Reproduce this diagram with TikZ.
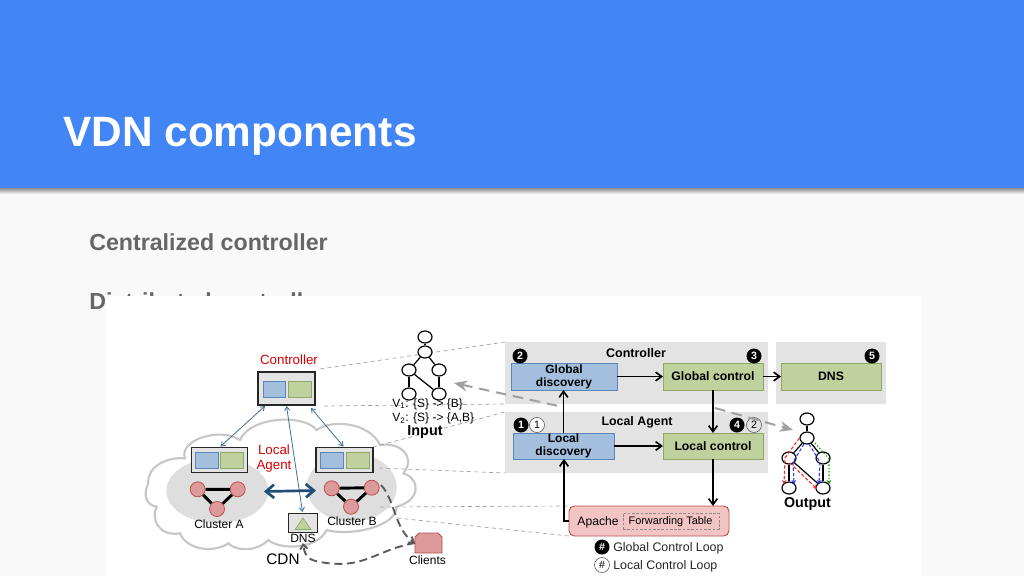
\documentclass[tikz,border=0pt]{standalone}
\usepackage{fontspec}
\setmainfont{Liberation Sans}
\usetikzlibrary{arrows.meta,calc,shapes.geometric}
\definecolor{hdr}{HTML}{4285F4}
\definecolor{pagebg}{HTML}{F9F9F9}
\definecolor{bodytxt}{HTML}{666666}
\definecolor{panel}{HTML}{E3E3E3}
\definecolor{bfill}{HTML}{A3BFDD}
\definecolor{bline}{HTML}{5A86B8}
\definecolor{gfill}{HTML}{BFD19C}
\definecolor{gline}{HTML}{8FA868}
\definecolor{pinkf}{HTML}{DC9A9A}
\definecolor{pinkl}{HTML}{B85050}
\definecolor{apachef}{HTML}{F2C4C4}
\definecolor{navy}{HTML}{1F4E79}
\definecolor{thinblue}{HTML}{3F6F96}
\definecolor{dashgrey}{HTML}{A0A0A0}
\tikzset{
  sz/.style 2 args={minimum width=#1*0.75pt,minimum height=#2*0.75pt,inner sep=0pt,outer sep=0pt},
  panelbox/.style={fill=panel,draw=none},
  bluebox/.style={fill=bfill,draw=bline,line width=.6pt,align=center,font=\fontsize{9}{9.8}\selectfont\bfseries},
  greenbox/.style={fill=gfill,draw=gline,line width=.6pt,align=center,font=\fontsize{9.2}{10}\selectfont\bfseries},
  agentbox/.style={fill=panel,draw=black!85,line width=1pt},
  pinkdot/.style={circle,fill=pinkf,draw=pinkl,line width=.6pt,minimum size=15*0.75pt,inner sep=0pt},
  gnode/.style={ellipse,fill=white,draw=black,line width=.9pt,minimum width=14*0.75pt,minimum height=12*0.75pt,inner sep=0pt},
  flow/.style={-{Straight Barb[length=4.5pt,width=6.5pt]},line width=1.2pt,black},
  thinarrow/.style={{Straight Barb[length=3pt,width=4pt]}-{Straight Barb[length=3pt,width=4pt]},line width=.6pt,thinblue},
  leader/.style={dash pattern=on 3pt off 2.5pt,line width=.5pt,dashgrey},
  blackno/.style={circle,fill=black,text=white,minimum size=15*0.75pt,inner sep=0pt,font=\fontsize{8}{8.5}\selectfont\bfseries},
  openno/.style={circle,fill=white,draw=black!70,line width=.4pt,minimum size=15*0.75pt,inner sep=0pt,font=\fontsize{8}{8.5}\selectfont},
  lab/.style={inner sep=0pt,font=\fontsize{9}{10.5}\selectfont},
  redlab/.style={inner sep=0pt,text=red!85!black,font=\fontsize{10}{11.5}\selectfont},
  graphedge/.style={line width=.9pt,black},
  tinydash/.style={-{Stealth[length=3pt,width=3.5pt]},line width=.8pt,dash pattern=on 2.5pt off 1.5pt},
  cdnarrow/.style={-{Straight Barb[length=3.5pt,width=5.5pt]},line width=1.4pt,black!65,dash pattern=on 6pt off 3.5pt},
  bigdash/.style={line width=1.5pt,dashgrey,dash pattern=on 8pt off 5pt},
}
\begin{document}
\begin{tikzpicture}[x=.75pt,y=-.75pt]
\useasboundingbox (0,0) rectangle (1024,576);
\fill[pagebg] (0,0) rectangle (1024,576);
\shade[top color=black!45,bottom color=pagebg] (0,188) rectangle (1024,194);
\fill[hdr] (0,0) rectangle (1024,188);
\node[anchor=base west,inner sep=0pt,text=white,font=\fontsize{31.8}{36}\selectfont\bfseries] (title) at (63,146) {VDN components};
\node[anchor=base west,inner sep=0pt,text=bodytxt,font=\fontsize{17.4}{22}\selectfont\bfseries] (b1) at (89,250) {Centralized controller};
\node[anchor=base west,inner sep=0pt,text=bodytxt,font=\fontsize{17.4}{22}\selectfont\bfseries] (b2) at (89,309) {Distributed controller};
\fill[white] (106,296) rectangle (921,576);

% cloud
\begin{scope}[shift={(140,330)},x=.25pt,y=-.25pt]
\draw[fill=white,draw=black!22,line width=1.6pt]
 (25,460) .. controls (20,410) and (80,380) .. (135,385)
 .. controls (115,330) and (240,290) .. (300,330)
 .. controls (330,260) and (490,250) .. (530,300)
 .. controls (580,265) and (690,280) .. (720,345)
 .. controls (780,335) and (830,380) .. (790,430)
 .. controls (840,445) and (845,510) .. (770,530)
 .. controls (770,590) and (630,620) .. (560,600)
 .. controls (530,660) and (420,660) .. (385,630)
 .. controls (350,665) and (290,665) .. (265,640)
 .. controls (220,670) and (140,660) .. (120,610)
 .. controls (60,620) and (30,570) .. (50,530)
 .. controls (15,525) and (10,490) .. (25,460) -- cycle;
\fill[black!13] (232,482) ellipse [x radius=153,y radius=98];
\fill[black!13] (635,472) ellipse [x radius=135,y radius=103];
\end{scope}

% input/output grey arrow behind the panels: left and right visible parts
\coordinate (ga) at (454,383); \coordinate (gb) at (563,407);
\coordinate (gc1) at (715,408); \coordinate (gd1) at (793,430);

% right panels
\node[panelbox,sz={263}{62}] (pctl) at (636.5,373) {};
\node[panelbox,sz={110}{62}] (pdns) at (831,373) {};
\node[panelbox,sz={263}{61}] (ploc) at (636.5,442.5) {};

% leader lines
\coordinate (l1a) at (320,369); \coordinate (l1b) at (505,342);
\coordinate (l2a) at (324,406); \coordinate (l2b) at (505,404);
\coordinate (l3a) at (373,447); \coordinate (l3b) at (505,412);
\coordinate (l4a) at (379,468); \coordinate (l4b) at (505,473);
\coordinate (l5a) at (380,507); \coordinate (l5b) at (569,506);
\coordinate (l6a) at (397,518); \coordinate (l6b) at (569,536);
\foreach \n in {1,...,6} \draw[leader] (l\n a) -- (l\n b);

% left: controller
\node[agentbox,sz={57}{33}] (ctl) at (286.5,388.5) {};
\node[fill=bfill,draw=bline,line width=.6pt,sz={22}{16}] (ctlb) at (274,389.5) {};
\node[fill=gfill,draw=gline,line width=.6pt,sz={23}{16}] (ctlg) at (299.5,389.5) {};
\node[redlab] (ctllab) at (289,360) {Controller};
% agents
\node[agentbox,sz={56}{25}] (aga) at (219.5,460) {};
\node[fill=bfill,draw=bline,line width=.6pt,sz={23}{16}] (agab) at (206.5,460) {};
\node[fill=gfill,draw=gline,line width=.6pt,sz={23}{16}] (agag) at (231.5,460) {};
\node[agentbox,sz={57}{25}] (agb) at (344.5,460) {};
\node[fill=bfill,draw=bline,line width=.6pt,sz={23}{16}] (agbb) at (331.5,460) {};
\node[fill=gfill,draw=gline,line width=.6pt,sz={23}{16}] (agbg) at (357.5,460) {};
\node[redlab,align=center] (loclab) at (274,458.5) {Local\\[-.5pt]Agent};
% clusters
\node[pinkdot] (a1) at (197.7,489.3) {};
\node[pinkdot] (a2) at (237.7,489.3) {};
\node[pinkdot] (a3) at (217,509) {};
\node[pinkdot] (b1c) at (331.7,488.3) {};
\node[pinkdot] (b2c) at (371.7,487.7) {};
\node[pinkdot] (b3c) at (351,506.7) {};
\draw[line width=2.2pt,black] (a1)--(a2) (a2)--(a3) (a1)--(a3);
\draw[line width=2.2pt,black] (b1c)--(b2c) (b2c)--(b3c) (b1c)--(b3c);
\node[lab] (claba) at (219,524) {Cluster A};
\node[lab] (clabb) at (352,521) {Cluster B};
% DNS
\node[agentbox,line width=.7pt,sz={29}{19}] (ldns) at (302.5,522.5) {};
\fill[gfill,draw=gline,line width=.5pt] (295,529.5) -- (303,518) -- (311,529.5) -- cycle;
\node[lab] (ldnslab) at (303,538.5) {DNS};
\node[inner sep=0pt,font=\fontsize{11.5}{13}\selectfont] (cdn) at (283,559.5) {CDN};
% clients
\node[sz={27}{20}] (cli) at (428.5,543) {};
\fill[pinkf,draw=pinkl,line width=.7pt] (415,553) -- (415,537) -- (419,533) -- (438,533) -- (442,537) -- (442,553) -- cycle;
\node[lab] (clilab) at (427.5,560.5) {Clients};
% left connectors
\draw[thinarrow] ($(ctl.south west)+(7,1)$) -- ($(aga.north)+(1,-1)$);
\draw[thinarrow] ($(ctl.south east)+(-4,3)$) -- ($(agb.north)+(-1,-1)$);
\draw[thinarrow] ($(ctl.south)+(0,1)$) -- ($(ldns.north)+(0,-1)$);
\draw[{Straight Barb[length=6pt,width=10pt]}-{Straight Barb[length=6pt,width=10pt]},line width=2pt,navy] (264,491.5) -- (316,490.5);
\coordinate (curv1) at (381,485);
\draw[cdnarrow] (curv1) .. controls (395,500) and (395,530) .. (cli.west);
\draw[cdnarrow] (cli.west) .. controls (375,550) and (365,570) .. (320,562) .. controls (310,560) and (305,558) .. (ldnslab.south);

% right boxes
\node[bluebox,sz={106}{27}] (gd) at (564,376.5) {Global\\discovery};
\node[greenbox,sz={100}{27}] (gc) at (713,376.5) {Global control};
\node[greenbox,sz={100}{27}] (rdns) at (831,376.5) {DNS};
\node[bluebox,sz={101}{26}] (ld) at (563.5,446) {Local\\discovery};
\node[greenbox,sz={100}{26}] (lc) at (713,446) {Local control};
\node[fill=apachef,draw=pinkl,line width=.7pt,rounded corners=4pt,sz={160}{30}] (ap) at (649,521) {};
\node[fill=none,draw=black!45,dash pattern=on 2pt off 1.2pt,line width=.5pt,sz={96}{16}] (ft) at (671,521) {};
\node[inner sep=0pt,font=\fontsize{9.1}{10}\selectfont] (aplab) at (598,522) {Apache};
\node[inner sep=0pt,font=\fontsize{8.2}{9}\selectfont] (ftlab) at (670.5,522) {Forwarding Table};
\node[inner sep=0pt,font=\fontsize{9.4}{10}\selectfont\bfseries] (pt1) at (636,353.5) {Controller};
\node[inner sep=0pt,font=\fontsize{9.3}{10}\selectfont\bfseries] (pt2) at (637,422) {Local Agent};
% numbers
\node[blackno] (n2) at (520,356) {2};
\node[blackno] (n3) at (754,356) {3};
\node[blackno] (n5) at (872,356) {5};
\node[blackno] (n1) at (521,425) {1};
\node[openno] (o1) at (537,425) {1};
\node[blackno] (n4) at (737,425) {4};
\node[openno,fill=panel] (o2) at (754,425) {2};
% right flows
\draw[flow] (gd) -- (gc);
\draw[flow] (gc) -- (rdns);
\draw[flow] (gc) -- (lc);
\draw[flow] (ld) -- (lc);
\draw[flow] (ld.north) -- (ld.north |- gd.south);
\draw[flow] (lc) -- (ap.north -| lc.south);
\draw[flow] (ap.west |- 0,521) -- (564,521) -- (564,459);
% legend
\node[blackno] (k1) at (602,547) {\#};
\node[openno] (k2) at (602,565) {\#};
\node[anchor=west,inner sep=0pt,text=black!85,font=\fontsize{9.3}{10}\selectfont] (k1t) at (613,548) {Global Control Loop};
\node[anchor=west,inner sep=0pt,text=black!85,font=\fontsize{9.3}{10}\selectfont] (k2t) at (613,566) {Local Control Loop};

% input graph
\node[gnode] (i1) at (425,337) {};
\node[gnode] (i2) at (425,352) {};
\node[gnode] (i3) at (409,370) {};
\node[gnode] (i4) at (439,370) {};
\node[gnode] (i5) at (409,394) {};
\node[gnode] (i6) at (439,394) {};
\foreach \a/\b in {i1/i2,i2/i3,i2/i4,i3/i5,i4/i6,i3/i6} \draw[graphedge] (\a)--(\b);
\node[lab,anchor=west] (v1) at (392,404.5) {V\textsubscript{1}: \{S\} -> \{B\}};
\node[lab,anchor=west] (v2) at (392,418.5) {V\textsubscript{2}: \{S\} -> \{A,B\}};
\node[inner sep=0pt,font=\fontsize{10.8}{11}\selectfont\bfseries] (inp) at (425,432) {Input};

% output graph
\node[gnode] (u1) at (807,419) {};
\node[gnode] (u2) at (807,438) {};
\node[gnode] (u3) at (789,458) {};
\node[gnode] (u4) at (823,458) {};
\node[gnode] (u5) at (789,488) {};
\node[gnode] (u6) at (823,488) {};
\foreach \a/\b in {u1/u2,u2/u3,u2/u4,u3/u5,u4/u6,u3/u6} \draw[graphedge] (\a)--(\b);
\draw[tinydash,red!85] (u2.west) -- (785,458) -- (784,484);
\draw[tinydash,red!85] (790,463) -- (817,489);
\draw[tinydash,blue!80] (804,444) -- (793,462) -- (794,484);
\draw[tinydash,blue!80] (809,444) -- (820,462) -- (819,484);
\draw[tinydash,green!65!black,dash pattern=on 1pt off 1.5pt] (815,443) -- (829,459) -- (829,484);
\node[inner sep=0pt,font=\fontsize{10.7}{11}\selectfont\bfseries] (outp) at (807.5,504) {Output};

% big grey dashed arrows
\draw[bigdash,{Stealth[length=10pt,width=8pt]}-] (ga) -- (gb);
\draw[bigdash,-{Stealth[length=10pt,width=8pt]}] (gc1) -- (gd1);
\end{tikzpicture}
\end{document}
